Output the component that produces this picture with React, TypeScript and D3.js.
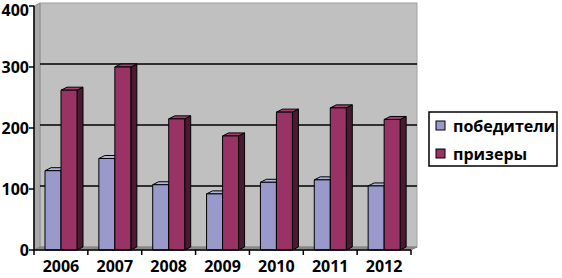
import React from 'react';
import * as d3 from 'd3';

// data
const years = ['2006', '2007', '2008', '2009', '2010', '2011', '2012'];
const winners = [130, 150, 107, 92, 111, 115, 105];
const prizers = [262, 300, 215, 187, 226, 233, 214];
const seriesNames = ['победители', 'призеры'];
const yTicks = [0, 100, 200, 300, 400];

const W = 562;
const H = 278;
const DX = 6; // 3d depth
const DY = -3;

const front = ['#9999cc', '#993366'];
const topFace = ['#b3b3dd', '#a6406f'];
const side = ['#5c5c80', '#4a1a33'];

export default function App() {
  const x0 = d3.scaleBand<string>().domain(years).range([34, 411]);
  const x1 = d3.scaleBand<string>().domain(seriesNames).range([11, 43]);
  const y = d3.scaleLinear().domain([0, 400]).range([250, 6]);

  const left = x0.range()[0];
  const right = x0.range()[1];
  const bottom = y(0);
  const top = y(400);

  const fontFamily = '"Open Sans", "Liberation Sans", sans-serif';

  const bar = (cx: number, v: number, s: number, key: string) => {
    const w = x1.bandwidth();
    const yt = y(v);
    const xr = cx + w;
    return (
      <g key={key} stroke="#000" strokeWidth={1} strokeLinejoin="round">
        <path
          d={`M${xr},${yt}L${xr + DX},${yt + DY}L${xr + DX},${bottom + DY}L${xr},${bottom}Z`}
          fill={side[s]}
        />
        <path
          d={`M${cx},${yt}L${cx + DX},${yt + DY}L${xr + DX},${yt + DY}L${xr},${yt}Z`}
          fill={topFace[s]}
        />
        <rect x={cx} y={yt} width={w} height={bottom - yt} fill={front[s]} />
      </g>
    );
  };

  return (
    <svg
      width={W}
      height={H}
      style={{ position: 'absolute', left: 0, top: 0, background: '#fff' }}
    >
      {/* back wall */}
      <rect
        x={left + DX}
        y={top + DY}
        width={right - left}
        height={bottom - top}
        fill="#c0c0c0"
        stroke="#a0a0a0"
      />
      {/* left wall */}
      <path
        d={`M${left},${bottom}L${left},${top}L${left + DX},${top + DY}L${left + DX},${bottom + DY}Z`}
        fill="#a8a8a8"
        stroke="#909090"
      />
      {/* floor */}
      <path
        d={`M${left},${bottom}L${right},${bottom}L${right + DX},${bottom + DY}L${left + DX},${bottom + DY}Z`}
        fill="#8c8c8c"
        stroke="#808080"
      />
      {/* gridlines on back wall */}
      {yTicks
        .filter((t) => t > 0 && t < 400)
        .map((t) => (
          <line
            key={t}
            x1={left + DX}
            x2={right + DX}
            y1={y(t) + DY}
            y2={y(t) + DY}
            stroke="#000"
            strokeWidth={1.5}
          />
        ))}

      {years.map((yr, i) => {
        const cx = x0(yr)!;
        return (
          <g key={yr}>
            {bar(cx + x1(seriesNames[0])!, winners[i], 0, 'w')}
            {bar(cx + x1(seriesNames[1])!, prizers[i], 1, 'p')}
          </g>
        );
      })}

      {/* y axis */}
      <line x1={left} x2={left} y1={top} y2={bottom} stroke="#000" strokeWidth={1.5} />
      {yTicks.map((t) => (
        <g key={t}>
          <line x1={left - 5} x2={left} y1={y(t)} y2={y(t)} stroke="#000" strokeWidth={1.5} />
          <text
            x={left - 5}
            y={Math.max(y(t), 10)}
            dy="0.35em"
            textAnchor="end"
            fontFamily={fontFamily}
            fontWeight={700}
            fontSize={16}
          >
            {t}
          </text>
        </g>
      ))}

      {/* x axis */}
      <line x1={left} x2={right} y1={bottom} y2={bottom} stroke="#000" strokeWidth={1.5} />
      {[...years.map((yr) => x0(yr)!), right].map((xv, i) => (
        <line key={i} x1={xv} x2={xv} y1={bottom} y2={bottom + 5} stroke="#000" strokeWidth={1.5} />
      ))}
      {years.map((yr) => (
        <text
          key={yr}
          x={x0(yr)! + x0.bandwidth() / 2}
          y={272}
          textAnchor="middle"
          fontFamily={fontFamily}
          fontWeight={700}
          fontSize={16}
        >
          {yr}
        </text>
      ))}

      {/* legend */}
      <rect x={429} y={112} width={128} height={54} fill="#fff" stroke="#000" strokeWidth={1.5} />
      {seriesNames.map((n, i) => (
        <g key={n} transform={`translate(436,${126 + i * 28})`}>
          <rect x={0} y={-5} width={9} height={9} fill={front[i]} stroke="#000" />
          <text
            x={17}
            y={0}
            dy="0.35em"
            fontFamily={fontFamily}
            fontWeight={700}
            fontSize={16}
          >
            {n}
          </text>
        </g>
      ))}
    </svg>
  );
}
